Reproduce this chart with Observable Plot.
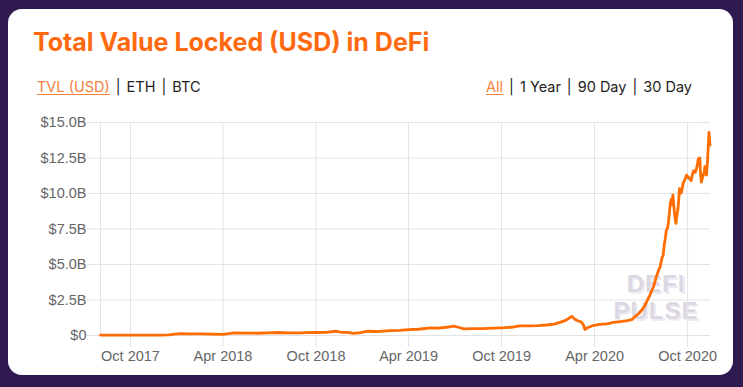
<!DOCTYPE html>
<html>
<head>
<meta charset="utf-8">
<script src="https://cdn.jsdelivr.net/npm/d3@7"></script>
<script src="https://cdn.jsdelivr.net/npm/@observablehq/plot@0.6"></script>
<style>
  html, body { margin: 0; padding: 0; }
  body { width: 743px; height: 387px; background: #2f1a4f; position: relative; overflow: hidden; }
  #card { position: absolute; left: 8px; top: 9px; width: 725px; height: 366px; background: #fff; border-radius: 14px; }
  #title { position: absolute; left: 33px; top: 30px; font-family: Inter, "Noto Sans", sans-serif; font-weight: 700; font-size: 25px; line-height: 25px; color: #ff6a10; white-space: nowrap; }
  .links { position: absolute; top: 80px; font-family: Inter, "Noto Sans", sans-serif; font-size: 14.5px; line-height: 14px; color: #222; white-space: nowrap; }
  .links .on { color: #f5803a; text-decoration: underline; text-underline-offset: 2px; }
  .links .sep { margin: 0 6px; }
  .wm { position: absolute; left: 596px; width: 120px; height: 20px; overflow: visible; text-align: center; font-family: "Liberation Sans", Arial, sans-serif; font-weight: 700; font-size: 24px; line-height: 20px; color: #dcd7e3; letter-spacing: 1px; text-shadow: 2px 2px 0 #eeebf2; }
  #chart { position: absolute; left: 0; top: 0; }
</style>
</head>
<body>
<div id="card"></div>
<div id="title">Total Value Locked (USD) in DeFi</div>
<div class="links" id="leftLinks" style="left:37px"></div>
<div class="links" id="rightLinks" style="right:51px"></div>
<div class="wm" style="top:274px">DEFI</div>
<div class="wm" style="top:301px">PULSE</div>
<div id="chart"></div>
<script>
const leftLabels = ["TVL (USD)", "ETH", "BTC"];
const rightLabels = ["All", "1 Year", "90 Day", "30 Day"];

const dates = [
  "2017-08-03","2017-09-01","2017-10-01","2017-11-01","2017-12-01","2017-12-15","2017-12-28","2018-01-08","2018-01-25","2018-02-17",
  "2018-03-10","2018-04-01","2018-04-23","2018-05-15","2018-06-08","2018-06-28","2018-07-18","2018-08-07","2018-08-27","2018-09-15",
  "2018-10-01","2018-10-20","2018-11-09","2018-11-18","2018-12-05","2018-12-14","2018-12-28","2019-01-10","2019-01-28","2019-02-10",
  "2019-02-24","2019-03-15","2019-04-01","2019-04-20","2019-05-14","2019-05-30","2019-06-15","2019-06-29","2019-07-08","2019-07-19",
  "2019-08-05","2019-08-25","2019-09-16","2019-10-01","2019-10-20","2019-11-06","2019-11-25","2019-12-12","2019-12-29","2020-01-12",
  "2020-01-24","2020-02-05","2020-02-12","2020-02-16","2020-02-22","2020-02-29","2020-03-06","2020-03-10","2020-03-13","2020-03-18",
  "2020-03-29","2020-04-11","2020-04-25","2020-05-08","2020-05-22","2020-06-05","2020-06-14","2020-06-20","2020-06-27","2020-07-04",
  "2020-07-09","2020-07-14","2020-07-19","2020-07-23","2020-07-26","2020-07-30","2020-08-02","2020-08-05","2020-08-08","2020-08-10",
  "2020-08-12","2020-08-14","2020-08-16","2020-08-18","2020-08-20","2020-08-22","2020-08-24","2020-08-26","2020-08-28","2020-08-30",
  "2020-09-01","2020-09-02","2020-09-04","2020-09-05","2020-09-07","2020-09-08","2020-09-10","2020-09-12","2020-09-14","2020-09-15",
  "2020-09-17","2020-09-19","2020-09-21","2020-09-23","2020-09-26","2020-09-29","2020-10-01","2020-10-03","2020-10-06","2020-10-08",
  "2020-10-10","2020-10-13","2020-10-16","2020-10-18","2020-10-20","2020-10-22","2020-10-25","2020-10-26","2020-10-28","2020-10-30",
  "2020-11-01","2020-11-03","2020-11-04","2020-11-06","2020-11-07","2020-11-09","2020-11-10","2020-11-12","2020-11-14"
];
// Total value locked, billions of USD
const tvl = [
  0.02,0.02,0.02,0.02,0.03,0.05,0.09,0.13,0.12,0.12,
  0.10,0.08,0.18,0.17,0.16,0.19,0.21,0.19,0.18,0.20,
  0.21,0.22,0.30,0.24,0.20,0.15,0.20,0.30,0.28,0.31,
  0.34,0.36,0.42,0.44,0.54,0.52,0.58,0.66,0.58,0.47,
  0.48,0.49,0.52,0.54,0.58,0.68,0.68,0.70,0.74,0.80,
  0.92,1.08,1.25,1.35,1.15,1.02,0.95,0.75,0.42,0.55,
  0.70,0.78,0.82,0.92,0.98,1.05,1.13,1.35,1.55,1.85,
  2.10,2.50,2.85,3.20,3.45,3.95,4.30,4.60,4.85,5.20,
  5.50,5.65,6.40,6.80,7.40,7.50,7.90,8.60,9.30,9.60,
  9.20,9.90,9.10,8.70,8.10,7.90,8.50,8.90,9.80,10.35,
  10.00,10.10,10.50,10.80,11.00,11.30,11.20,11.10,11.00,10.90,
  11.30,11.60,11.50,11.70,12.00,12.45,12.50,11.60,10.80,11.10,
  11.30,11.60,11.90,11.40,11.30,12.20,12.90,14.30,13.40
];
const yTicks = [0, 2.5, 5, 7.5, 10, 12.5, 15];
const xTicks = ["2017-10-01","2018-04-01","2018-10-01","2019-04-01","2019-10-01","2020-04-01","2020-10-01"];
const xStart = "2017-08-03", xEnd = "2020-11-15";

function buildLinks(el, labels) {
  labels.forEach((t, i) => {
    if (i > 0) { const s = document.createElement("span"); s.className = "sep"; s.textContent = "|"; el.appendChild(s); }
    const a = document.createElement("span"); a.textContent = t; if (i === 0) a.className = "on"; el.appendChild(a);
  });
}
buildLinks(document.getElementById("leftLinks"), leftLabels);
buildLinks(document.getElementById("rightLinks"), rightLabels);

const data = dates.map((d, i) => ({date: new Date(d), value: tvl[i]}));
const fmtY = v => v === 0 ? "$0" : "$" + v.toFixed(1) + "B";

const chart = Plot.plot({
  width: 743, height: 387,
  marginLeft: 100, marginRight: 33, marginTop: 122, marginBottom: 52,
  style: {background: "transparent", fontFamily: "'Liberation Sans', Arial, sans-serif", fontSize: "14.5px", color: "#666", overflow: "visible"},
  x: {type: "utc", domain: [new Date(xStart), new Date(xEnd)]},
  y: {domain: [0, 15]},
  marks: [
    Plot.gridX(xTicks.map(d => new Date(d)), {stroke: "#e3e3e3", strokeOpacity: 1}),
    Plot.gridY(yTicks, {stroke: "#e3e3e3", strokeOpacity: 1}),
    Plot.frame({anchor: "left", stroke: "#e3e3e3"}),
    Plot.axisX(xTicks.map(d => new Date(d)), {tickSize: 12, tickPadding: 3, stroke: "#e3e3e3", fill: "#666", tickFormat: d3.utcFormat("%b %Y"), label: null}),
    Plot.axisY(yTicks, {tickSize: 13, tickPadding: 1, stroke: "#e3e3e3", fill: "#666", tickFormat: fmtY, label: null}),
    Plot.lineY(data, {x: "date", y: "value", stroke: "#ff6d00", strokeWidth: 2.8, strokeLinejoin: "round", curve: "linear"})
  ]
});
document.getElementById("chart").appendChild(chart);
</script>
</body>
</html>
